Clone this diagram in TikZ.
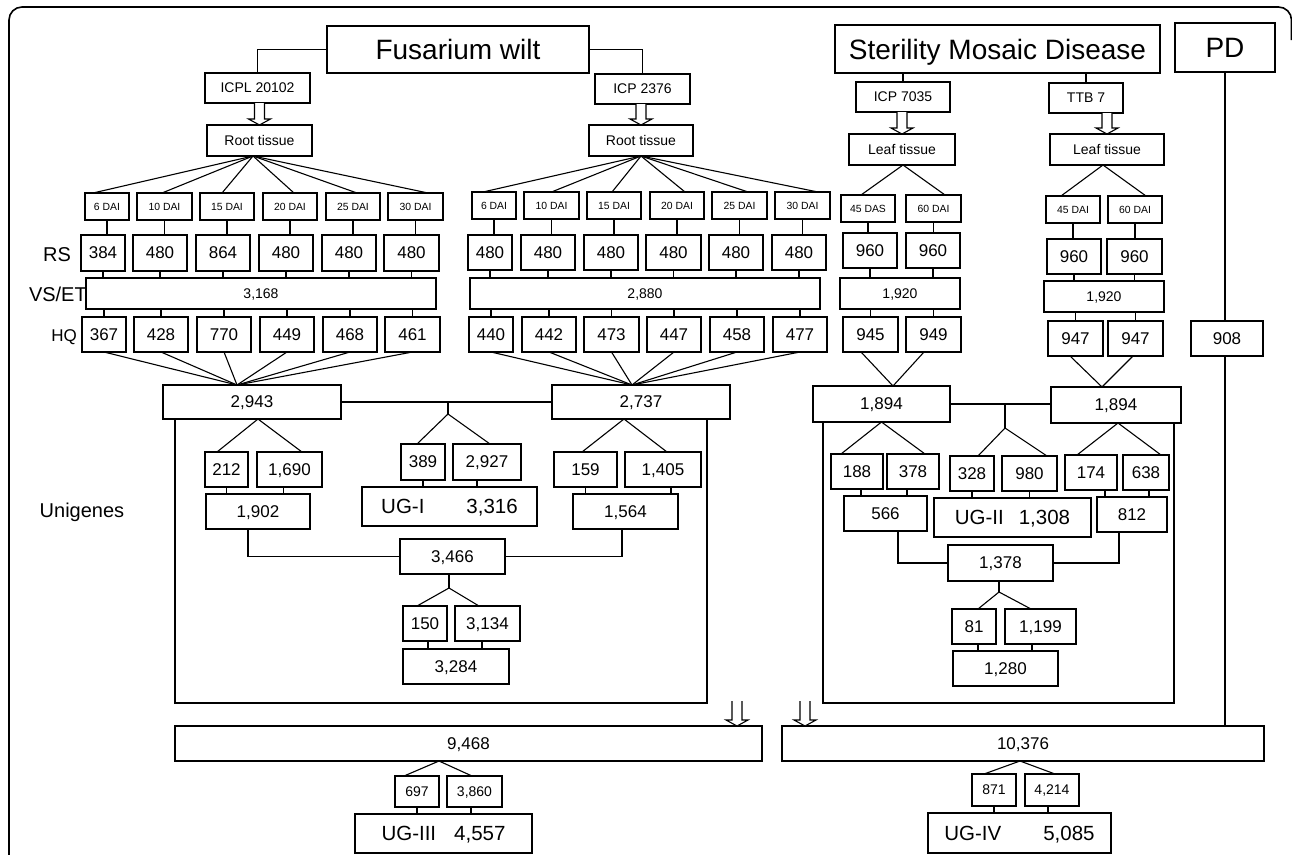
\documentclass[tikz,border=0pt]{standalone}
\usepackage{fontspec}
\setmainfont{Liberation Sans}
\usetikzlibrary{calc}
\tikzset{
 bx/.style={draw=black, line width=1.1pt, inner sep=0pt, outer sep=0pt, text depth=0pt, fill=white},
 lbl/.style={inner sep=0pt, text depth=0pt},
 fhuge/.style={font=\fontsize{28}{30}\selectfont},
 flab/.style={font=\fontsize{20}{22}\selectfont},
 fnum/.style={font=\fontsize{17}{19}\selectfont},
 fsm/.style={font=\fontsize{14}{16}\selectfont},
 ftiny/.style={font=\fontsize{10.4}{12}\selectfont},
 fug/.style={font=\fontsize{20.5}{22}\selectfont},
 ln/.style={line width=1.1pt},
 frame/.style={line width=1.6pt, rounded corners=13pt},
}
\newcommand{\mkbox}[7][]{\node[bx,#1,minimum width={(#5-#3)*1pt},minimum height={(#6-#4)*1pt}] (#2) at ({(#3+#5)/2},{(#4+#6)/2}) {#7};}
\newcommand{\harr}[2]{%
 \draw[ln,fill=white] ($(#2 |- #1)+(-5,0)$) -- ($(#2)+(-5,-6)$) -- ($(#2)+(-11,-6)$) -- (#2) -- ($(#2)+(11,-6)$) -- ($(#2)+(5,-6)$) -- ($(#2 |- #1)+(5,0)$);}
\begin{document}
\begin{tikzpicture}[x=1pt,y=-1pt]
\useasboundingbox (0,0) rectangle (1292,854);
\draw[frame] (9,856) -- (9,7) -- (1291.5,7) -- (1291.5,40);

% ---------- top boxes
\mkbox[fhuge]{fus}{327}{26}{589}{73}{Fusarium wilt}
\mkbox[fhuge]{smd}{835}{25}{1160}{73}{Sterility Mosaic Disease}
\mkbox[fhuge]{pd}{1175}{23}{1275}{72}{PD}
\mkbox[fsm]{icpl}{205}{73}{310}{103}{ICPL 20102}
\mkbox[fsm]{icpb}{595}{74}{690}{104}{ICP 2376}
\mkbox[fsm]{icpc}{856}{82}{950}{112}{ICP 7035}
\mkbox[fsm]{ttb}{1049}{83}{1123}{113}{TTB 7}
\mkbox[fsm]{rt1}{207}{125}{312}{156}{Root tissue}
\mkbox[fsm]{rt2}{589}{125}{693}{156}{Root tissue}
\mkbox[fsm]{lt1}{849}{134}{955}{165}{Leaf tissue}
\mkbox[fsm]{lt2}{1050}{134}{1164}{165}{Leaf tissue}

% ---------- DAI rows
\foreach \n/\a/\b/\s in {d1/85/129/6, d2/137/192/10, d3/200/254/15, d4/263/317/20, d5/326/380/25, d6/388/443/30}
 {\mkbox[ftiny]{\n}{\a}{193}{\b}{220}{\s\ DAI}}
\foreach \n/\a/\b/\s in {e1/472/516/6, e2/524/579/10, e3/587/641/15, e4/650/704/20, e5/712/767/25, e6/775/830/30}
 {\mkbox[ftiny]{\n}{\a}{192}{\b}{219}{\s\ DAI}}
\mkbox[ftiny]{s1}{841}{195}{895}{222}{45 DAS}
\mkbox[ftiny]{s2}{906}{195}{961}{222}{60 DAI}
\mkbox[ftiny]{t1}{1046}{196}{1100}{223}{45 DAI}
\mkbox[ftiny]{t2}{1108}{196}{1162}{223}{60 DAI}

% ---------- RS rows
\foreach \n/\a/\b/\s in {r1/81/125/384, r2/133/187/480, r3/196/250/864, r4/259/313/480, r5/322/376/480, r6/384/439/480}
 {\mkbox[fnum]{\n}{\a}{235}{\b}{271}{\s}}
\foreach \n/\a/\b in {q1/468/512, q2/521/575, q3/584/638, q4/646/701, q5/709/763, q6/772/826}
 {\mkbox[fnum]{\n}{\a}{235}{\b}{270}{480}}
\mkbox[fnum]{a1}{843}{233}{897}{268}{960}
\mkbox[fnum]{a2}{906}{233}{960}{268}{960}
\mkbox[fnum]{b1}{1047}{239}{1101}{274}{960}
\mkbox[fnum]{b2}{1107}{239}{1162}{274}{960}

% ---------- VS/ET row
\mkbox[fsm]{v1}{86}{278}{436}{309}{3,168}
\mkbox[fsm]{v2}{470}{278}{820}{309}{2,880}
\mkbox[fsm]{v3}{840}{278}{960}{309}{1,920}
\mkbox[fsm]{v4}{1044}{281}{1164}{312}{1,920}

% ---------- HQ rows
\foreach \n/\a/\b/\s in {h1/82/126/367, h2/134/188/428, h3/197/251/770, h4/260/314/449, h5/323/377/468, h6/385/440/461}
 {\mkbox[fnum]{\n}{\a}{317}{\b}{352}{\s}}
\foreach \n/\a/\b/\s in {g1/469/513/440, g2/522/576/442, g3/584/639/473, g4/647/701/447, g5/710/764/458, g6/773/827/477}
 {\mkbox[fnum]{\n}{\a}{317}{\b}{352}{\s}}
\mkbox[fnum]{c1}{843}{317}{898}{352}{945}
\mkbox[fnum]{c2}{906}{317}{961}{352}{949}
\mkbox[fnum]{c3}{1048}{321}{1103}{356}{947}
\mkbox[fnum]{c4}{1108}{321}{1163}{356}{947}
\mkbox[fnum]{n908}{1191}{321}{1263}{356}{908}

% ---------- merged sets
\mkbox[fnum]{n2943}{163}{385}{341}{419}{2,943}
\mkbox[fnum]{n2737}{552}{385}{730}{419}{2,737}
\mkbox[fnum]{n1894a}{813}{386}{950}{422}{1,894}
\mkbox[fnum]{n1894b}{1051}{387}{1181}{423}{1,894}

% ---------- unigenes (Fusarium)
\mkbox[fnum]{n212}{205}{452}{248}{487}{212}
\mkbox[fnum]{n1690}{257}{452}{322}{487}{1,690}
\mkbox[fnum]{n1902}{206}{494}{310}{529}{1,902}
\mkbox[fnum]{n389}{401}{444}{445}{480}{389}
\mkbox[fnum]{n2927}{453}{444}{521}{480}{2,927}
\mkbox[fug]{ug1}{362}{487}{537}{526}{UG-I\hspace{42pt}3,316}
\mkbox[fnum]{n159}{554}{452}{617}{487}{159}
\mkbox[fnum]{n1405}{625}{452}{701}{487}{1,405}
\mkbox[fnum]{n1564}{573}{494}{678}{529}{1,564}
\mkbox[fnum]{n3466}{400}{539}{505}{574}{3,466}
\mkbox[fnum]{n150}{403}{606}{447}{641}{150}
\mkbox[fnum]{n3134}{455}{606}{520}{641}{3,134}
\mkbox[fnum]{n3284}{403}{649}{509}{684}{3,284}

% ---------- unigenes (SMD)
\mkbox[fnum]{n188}{831}{454}{883}{489}{188}
\mkbox[fnum]{n378}{887}{454}{939}{489}{378}
\mkbox[fnum]{n566}{844}{496}{927}{531}{566}
\mkbox[fnum]{n328}{950}{456}{994}{491}{328}
\mkbox[fnum]{n980}{1002}{456}{1057}{491}{980}
\mkbox[fug]{ug2}{934}{498}{1091}{537}{UG-II\hspace{15pt}1,308}
\mkbox[fnum]{n174}{1065}{455}{1117}{490}{174}
\mkbox[fnum]{n638}{1123}{455}{1169}{490}{638}
\mkbox[fnum]{n812}{1097}{497}{1167}{532}{812}
\mkbox[fnum]{n1378}{948}{545}{1053}{581}{1,378}
\mkbox[fnum]{n81}{952}{609}{996}{644}{81}
\mkbox[fnum]{n1199}{1005}{609}{1076}{644}{1,199}
\mkbox[fnum]{n1280}{953}{651}{1058}{686}{1,280}

% ---------- bottom
\mkbox[fnum]{n9468}{175}{726}{762}{761}{9,468}
\mkbox[fnum]{n10376}{782}{726}{1264}{761}{10,376}
\mkbox[fsm]{n697}{395}{776}{439}{807}{697}
\mkbox[fsm]{n3860}{447}{776}{502}{807}{3,860}
\mkbox[fug]{ug3}{355}{814}{532}{853}{UG-III\hspace{18pt}4,557}
\mkbox[fsm]{n871}{972}{774}{1016}{806}{871}
\mkbox[fsm]{n4214}{1025}{774}{1079}{806}{4,214}
\mkbox[fug]{ug4}{928}{813}{1111}{853}{UG-IV\hspace{42pt}5,085}

% ---------- connectors: top
\draw[ln] (fus.west) -| (icpl.north);
\draw[ln] (fus.east) -| (icpb.north);
\draw[ln] (smd.south -| icpc.north) -- (icpc.north);
\draw[ln] (smd.south -| ttb.north) -- (ttb.north);
\draw[ln] (pd.south) -- (pd.south |- n908.north);
\draw[ln] (pd.south |- n908.south) -- (pd.south |- n10376.north);

\harr{icpl.south}{rt1.north}
\harr{icpb.south}{rt2.north}
\harr{icpc.south}{lt1.north}
\harr{ttb.south}{lt2.north}

\foreach \n/\o in {d1/-14,d2/-2.5,d3/-5,d4/4,d5/4,d6/12.5}
 \draw[ln] ([xshift=-6.5pt]rt1.south) -- ([xshift=\o pt]\n.north);
\foreach \n/\o in {e1/-11,e2/0,e3/-2,e4/8,e5/8.5,e6/15.5}
 \draw[ln] (rt2.south) -- ([xshift=\o pt]\n.north);
\draw[ln] ([xshift=-7pt]s1.north) -- ([xshift=1pt]lt1.south) -- ([xshift=11.5pt]s2.north);
\draw[ln] ([xshift=-12pt]t1.north) -- ([xshift=-4pt]lt2.south) -- ([xshift=11pt]t2.north);

\foreach \a/\b in {d1/r1,d2/r2,d3/r3,d4/r4,d5/r5,d6/r6,e1/q1,e2/q2,e3/q3,e4/q4,e5/q5,e6/q6,s1/a1,s2/a2,t1/b1,t2/b2}
 \draw[ln] (\a.south) -- (\a.south |- \b.north);
\foreach \b/\v in {r1/v1,r2/v1,r3/v1,r4/v1,r5/v1,r6/v1,q1/v2,q2/v2,q3/v2,q4/v2,q5/v2,q6/v2,a1/v3,a2/v3,b1/v4,b2/v4}
 \draw[ln] (\b.south) -- (\b.south |- \v.north);
\foreach \h/\v in {h1/v1,h2/v1,h3/v1,h4/v1,h5/v1,h6/v1,g1/v2,g2/v2,g3/v2,g4/v2,g5/v2,g6/v2,c1/v3,c2/v3,c3/v4,c4/v4}
 \draw[ln] (\h.north |- \v.south) -- (\h.north);

\foreach \h in {h1,h2,h3,h4,h5,h6}
 \draw[ln] (\h.south) -- ([xshift=-15pt]n2943.north);
\foreach \h in {g1,g2,g3,g4,g5,g6}
 \draw[ln] (\h.south) -- ([xshift=-9pt]n2737.north);
\draw[ln] ([xshift=-9.5pt]c1.south) -- ([xshift=11.5pt]n1894a.north) -- ([xshift=-9.5pt]c2.south);
\draw[ln] ([xshift=-5.5pt]c3.south) -- ([xshift=-14pt]n1894b.north) -- ([xshift=-2.5pt]c4.south);

% ---------- connectors: unigenes Fusarium
\draw[ln] (n2943.east) -- (n2737.west);
\coordinate (j1) at (448,414);
\draw[ln] (j1 |- n2943.east) -- (j1);
\draw[ln] ([xshift=-6pt]n389.north) -- (j1) -- ([xshift=3pt]n2927.north);
\draw[ln] ([xshift=-9.5pt]n212.north) -- ([xshift=6pt]n2943.south) -- ([xshift=12.5pt]n1690.north);
\draw[ln] ([xshift=-3.5pt]n159.north) -- ([xshift=-17pt]n2737.south) -- ([xshift=4pt]n1405.north);
\draw[ln] (n212.south) -- (n212.south |- n1902.north);
\draw[ln] ([xshift=-6pt]n1690.south) -- ([xshift=-6pt]n1690.south |- n1902.north);
\draw[ln] (n389.south) -- (n389.south |- ug1.north);
\draw[ln] ([xshift=-10pt]n2927.south) -- ([xshift=-10pt]n2927.south |- ug1.north);
\draw[ln] (n159.south) -- (n159.south |- n1564.north);
\draw[ln] ([xshift=8pt]n1405.south) -- ([xshift=8pt]n1405.south |- n1564.north);
\draw[ln] ([xshift=-10pt]n1902.south) |- (n3466.west);
\draw[ln] ([xshift=-3.5pt]n1564.south) |- (n3466.east);
\coordinate (j3) at ([xshift=-3.5pt,yshift=-14pt]n3466.south);
\draw[ln] ([xshift=-3.5pt]n3466.south) -- (j3);
\draw[ln] ([xshift=-8pt]n150.north) -- (j3) -- ([xshift=-8.5pt]n3134.north);
\draw[ln] ([xshift=3pt]n150.south) -- ([xshift=3pt]n150.south |- n3284.north);
\draw[ln] ([xshift=-5.5pt]n3134.south) -- ([xshift=-5.5pt]n3134.south |- n3284.north);

% ---------- connectors: unigenes SMD
\draw[ln] (n1894a.east) -- (n1894a.east -| n1894b.west);
\coordinate (j2) at (1005,428);
\draw[ln] (j2 |- n1894a.east) -- (j2);
\draw[ln] ([xshift=6pt]n328.north) -- (j2) -- ([xshift=17.5pt]n980.north);
\draw[ln] ([xshift=-16pt]n188.north) -- (n1894a.south) -- ([xshift=12pt]n378.north);
\draw[ln] ([xshift=-14pt]n174.north) -- ([xshift=2pt]n1894b.south) -- ([xshift=15pt]n638.north);
\draw[ln] ([xshift=4pt]n188.south) -- ([xshift=4pt]n188.south |- n566.north);
\draw[ln] ([xshift=-6pt]n378.south) -- ([xshift=-6pt]n378.south |- n566.north);
\draw[ln] (n328.south) -- (n328.south |- ug2.north);
\draw[ln] (n980.south) -- (n980.south |- ug2.north);
\draw[ln] ([xshift=14pt]n174.south) -- ([xshift=14pt]n174.south |- n812.north);
\draw[ln] ([xshift=3pt]n638.south) -- ([xshift=3pt]n638.south |- n812.north);
\draw[ln] ([xshift=12.5pt]n566.south) |- (n1378.west);
\draw[ln] ([xshift=-13pt]n812.south) |- (n1378.east);
\coordinate (j4) at ([xshift=-1.5pt,yshift=-11pt]n1378.south);
\draw[ln] ([xshift=-1.5pt]n1378.south) -- (j4);
\draw[ln] ([xshift=4pt]n81.north) -- (j4) -- ([xshift=-9.5pt]n1199.north);
\draw[ln] ([xshift=4pt]n81.south) -- ([xshift=4pt]n81.south |- n1280.north);
\draw[ln] ([xshift=-8.5pt]n1199.south) -- ([xshift=-8.5pt]n1199.south |- n1280.north);

% ---------- big collecting lines
\coordinate (bl) at (0,703);
\coordinate (lA) at ([xshift=12pt]n2943.south west);
\coordinate (lB) at ([xshift=-23pt]n2737.south east);
\draw[ln] (lA) -- (lA |- bl) -- (lB |- bl) -- (lB);
\coordinate (rA) at ([xshift=10pt]n1894a.south west);
\coordinate (rB) at ([xshift=-7pt]n1894b.south east);
\draw[ln] (rA) -- (rA |- bl) -- (rB |- bl) -- (rB);
\coordinate (ya) at (0,701);
\coordinate (tipA) at ([xshift=-25pt]n9468.north east);
\coordinate (tipB) at ([xshift=23pt]n10376.north west);
\harr{ya}{tipA}
\harr{ya}{tipB}

% ---------- bottom branches
\draw[ln] ([xshift=-13pt]n697.north) -- ([xshift=-29.5pt]n9468.south) -- ([xshift=-2.5pt]n3860.north);
\draw[ln] ([xshift=-10pt]n871.north) -- ([xshift=-3pt]n10376.south) -- ([xshift=3pt]n4214.north);
\draw[ln] (n697.south) -- (n697.south |- ug3.north);
\draw[ln] ([xshift=-3.5pt]n3860.south) -- ([xshift=-3.5pt]n3860.south |- ug3.north);
\draw[ln] (n871.south) -- (n871.south |- ug4.north);
\draw[ln] ([xshift=-4pt]n4214.south) -- ([xshift=-4pt]n4214.south |- ug4.north);

% ---------- row labels
\node[lbl,flab] (lrs) at (57,255) {RS};
\node[lbl,flab,anchor=east] (lvs) at (87,294) {VS/ET};
\node[lbl,fnum] (lhq) at (64,336) {HQ};
\node[lbl,flab] (lug) at (82,510) {Unigenes};
\end{tikzpicture}
\end{document}
